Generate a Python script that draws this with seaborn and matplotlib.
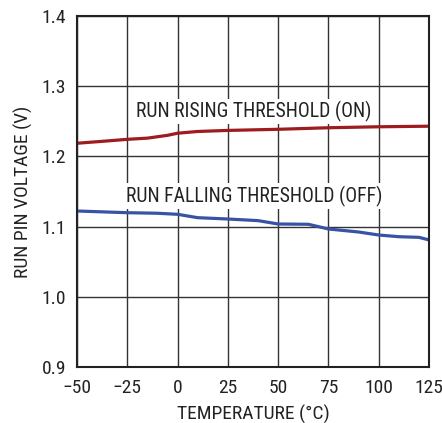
import matplotlib
matplotlib.use("Agg")
import matplotlib.pyplot as plt
import seaborn as sns
import pandas as pd
from matplotlib import font_manager

temps_on = [-50, -35, -25, -15, -5, 0, 10, 25, 50, 75, 100, 125]
volts_on = [1.2187, 1.2220, 1.2243, 1.2260, 1.2300, 1.2330, 1.2355, 1.2370, 1.2386, 1.2408, 1.2422, 1.2430]

temps_off = [-50, -25, -10, 0, 10, 25, 40, 50, 65, 75, 90, 100, 110, 120, 125]
volts_off = [1.1222, 1.1198, 1.1190, 1.1175, 1.1127, 1.1108, 1.1085, 1.1037, 1.1033, 1.0966, 1.0923, 1.0880, 1.0856, 1.0847, 1.0810]

x_ticks = [-50, -25, 0, 25, 50, 75, 100, 125]
x_labels = ["\u221250", "\u221225", "0", "25", "50", "75", "100", "125"]
y_ticks = [0.9, 1.0, 1.1, 1.2, 1.3, 1.4]
y_labels = ["0.9", "1.0", "1.1", "1.2", "1.3", "1.4"]

sns.set_theme(style="white")
names = {f.name for f in font_manager.fontManager.ttflist}
fam = [f for f in ["Liberation Sans Narrow", "Roboto Condensed", "Liberation Sans", "DejaVu Sans"] if f in names]
plt.rcParams['font.family'] = fam + ["DejaVu Sans"]

df_on = pd.DataFrame({"T": temps_on, "V": volts_on})
df_off = pd.DataFrame({"T": temps_off, "V": volts_off})

fig = plt.figure(figsize=(4.42, 4.23), dpi=100)
ax = fig.add_axes([0.1742, 0.1324, 0.7964, 0.8298])

sns.lineplot(data=df_on, x="T", y="V", ax=ax, color="#9e1b20", linewidth=2.3)
sns.lineplot(data=df_off, x="T", y="V", ax=ax, color="#3953a4", linewidth=2.3)

ax.set_xlim(-50, 125)
ax.set_ylim(0.9, 1.4)
ax.set_xticks(x_ticks)
ax.set_xticklabels(x_labels)
ax.set_yticks(y_ticks)
ax.set_yticklabels(y_labels)
ax.grid(True, color="#333333", linewidth=1.0)
ax.set_axisbelow(True)
for s in ax.spines.values():
    s.set_color("#222222")
    s.set_linewidth(1.5)
ax.tick_params(axis="both", labelsize=14, colors="#222222", length=0)
ax.tick_params(axis="x", pad=9)
ax.tick_params(axis="y", pad=8)
ax.set_xlabel("TEMPERATURE (\u00b0C)", fontsize=14, color="#222222", labelpad=5)
ax.set_ylabel("RUN PIN VOLTAGE (V)", fontsize=14, color="#222222", labelpad=6)

bbox = dict(facecolor="white", edgecolor="none", pad=1.5)
ax.text(38, 1.2637, "RUN RISING THRESHOLD (ON)", ha="center", va="center",
        fontsize=14.2, color="#222222", bbox=bbox, zorder=3)
ax.text(38, 1.1436, "RUN FALLING THRESHOLD (OFF)", ha="center", va="center",
        fontsize=14.2, color="#222222", bbox=bbox, zorder=3)

fig.savefig("out.png", dpi=100)
